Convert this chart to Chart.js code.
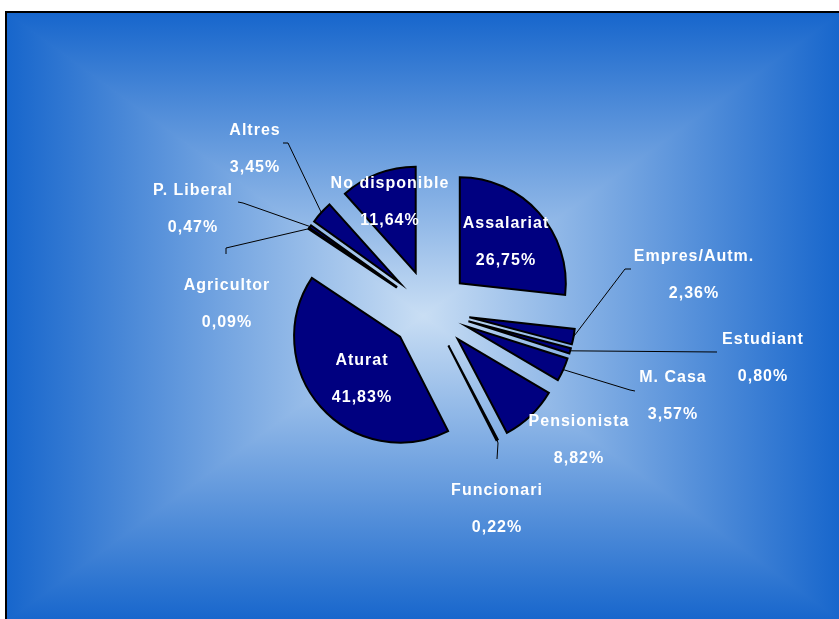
<!DOCTYPE html>
<html>
<head>
<meta charset="utf-8">
<script src="https://cdn.jsdelivr.net/npm/chart.js@4"></script>
<style>
  body { margin: 0; background: #fff; }
  canvas { display: block; }
</style>
</head>
<body>
<canvas id="pie" width="839" height="619"></canvas>
<script>
// Data
const categories = ['Assalariat', 'Empres/Autm.', 'Estudiant', 'M. Casa', 'Pensionista', 'Funcionari',
  'Aturat', 'Agricultor', 'P. Liberal', 'Altres', 'No disponible'];
const shares = [26.75, 2.36, 0.80, 3.57, 8.82, 0.22, 41.83, 0.09, 0.47, 3.45, 11.64];

// Layout of the labels (centre of the two-line block) and leader line bends
const labelPos = [[506, 242], [694, 275], [763, 358], [673, 396], [579, 440], [497, 509],
  [362, 379], [227, 304], [193, 209], [255, 149], [390, 202]];
const leaders = [null, [[625, 269], [631, 269]], [[717, 352]], [[630, 390], [635, 391]], null,
  [[498, 443], [497, 459]], null, [[226, 248], [226, 254]], [[243, 203], [238, 202]],
  [[288, 143], [283, 143]], null];

const EXPLODE = 40;
const LINE_GAP = 18.5;

// Rectangular "from centre" gradient background with frame
const backdrop = {
  id: 'backdrop',
  beforeDraw(chart) {
    const ctx = chart.ctx;
    const x0 = 7, y0 = 13, x1 = 841, y1 = 621;
    const cx = 423, cy = 316;
    const edge = '#1766cc', mid = '#c9def4';
    ctx.save();
    const tri = (pts, g) => {
      ctx.beginPath();
      ctx.moveTo(pts[0][0], pts[0][1]);
      pts.slice(1).forEach(p => ctx.lineTo(p[0], p[1]));
      ctx.closePath();
      g.addColorStop(0, edge);
      g.addColorStop(1, mid);
      ctx.fillStyle = g;
      ctx.strokeStyle = g;
      ctx.lineWidth = 1.5;
      ctx.fill();
      ctx.stroke();
    };
    tri([[x0, y0], [x1, y0], [cx, cy]], ctx.createLinearGradient(0, y0, 0, cy));
    tri([[x0, y1], [x1, y1], [cx, cy]], ctx.createLinearGradient(0, y1, 0, cy));
    tri([[x0, y0], [x0, y1], [cx, cy]], ctx.createLinearGradient(x0, 0, cx, 0));
    tri([[x1, y0], [x1, y1], [cx, cy]], ctx.createLinearGradient(x1, 0, cx, 0));
    ctx.strokeStyle = '#000';
    ctx.lineWidth = 2;
    ctx.strokeRect(x0 - 1, y0 - 1, x1 - x0 + 2, y1 - y0 + 2);
    ctx.restore();
  }
};

// Draw every slice pulled out from the centre by the same distance
const explode = {
  id: 'explode',
  beforeDatasetDraw(chart, args) {
    const ctx = chart.ctx;
    args.meta.data.forEach(arc => {
      const a = (arc.startAngle + arc.endAngle) / 2;
      ctx.save();
      ctx.translate(Math.cos(a) * EXPLODE, Math.sin(a) * EXPLODE);
      arc.draw(ctx);
      ctx.restore();
    });
    return false;
  }
};

// Leader lines and two-line labels
const pieLabels = {
  id: 'pieLabels',
  afterDatasetsDraw(chart) {
    const ctx = chart.ctx;
    const arcs = chart.getDatasetMeta(0).data;
    ctx.save();
    ctx.strokeStyle = '#000';
    ctx.lineWidth = 1;
    arcs.forEach((arc, i) => {
      if (!leaders[i]) return;
      const a = (arc.startAngle + arc.endAngle) / 2;
      const r = arc.outerRadius + EXPLODE;
      ctx.beginPath();
      ctx.moveTo(arc.x + Math.cos(a) * r, arc.y + Math.sin(a) * r);
      leaders[i].forEach(p => ctx.lineTo(p[0], p[1]));
      ctx.stroke();
    });
    ctx.fillStyle = '#fff';
    ctx.font = 'bold 16px "Liberation Sans", Arial, sans-serif';
    ctx.textAlign = 'center';
    ctx.textBaseline = 'middle';
    if ('letterSpacing' in ctx) ctx.letterSpacing = '1px';
    categories.forEach((name, i) => {
      const [x, y] = labelPos[i];
      const pct = shares[i].toFixed(2).replace('.', ',') + '%';
      ctx.fillText(name, x, y - LINE_GAP);
      ctx.fillText(pct, x, y + LINE_GAP);
    });
    ctx.restore();
  }
};

new Chart(document.getElementById('pie'), {
  type: 'pie',
  data: {
    labels: categories,
    datasets: [{
      data: shares,
      backgroundColor: '#000080',
      borderColor: '#000',
      borderWidth: 2,
      borderJoinStyle: 'miter'
    }]
  },
  options: {
    responsive: false,
    animation: false,
    radius: 106,
    layout: { padding: { left: 21, top: 1 } },
    plugins: {
      legend: { display: false },
      tooltip: { enabled: false }
    }
  },
  plugins: [backdrop, explode, pieLabels]
});
</script>
</body>
</html>
